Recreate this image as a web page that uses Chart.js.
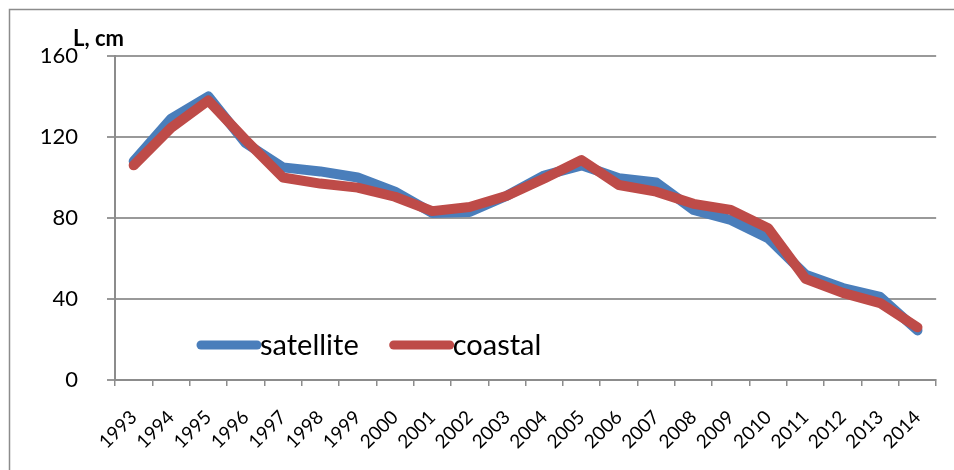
<!DOCTYPE html>
<html>
<head>
<meta charset="utf-8">
<script src="https://cdn.jsdelivr.net/npm/chart.js@4/dist/chart.umd.min.js"></script>
<style>
  html, body { margin: 0; padding: 0; background: #ffffff; }
  #wrap { width: 954px; height: 470px; position: relative; }
</style>
</head>
<body>
<div id="wrap"><canvas id="c" width="954" height="470"></canvas></div>
<script>
const years = ["1993","1994","1995","1996","1997","1998","1999","2000","2001","2002","2003",
               "2004","2005","2006","2007","2008","2009","2010","2011","2012","2013","2014"];
const satellite = [108, 129, 140, 117, 105, 103, 100, 93, 82.5, 83, 91,
                   101, 106, 99.7, 97.5, 84, 79, 70, 52, 45.4, 41, 24.5];
const coastal   = [106, 124.5, 138, 118.5, 100, 97, 95, 90.5, 83.4, 85.4, 91,
                   99.5, 108.6, 96.3, 93, 87, 84, 75, 50, 43, 38, 26];
const yTicks = [0, 40, 80, 120, 160];
const yTitle = "L, cm";
const seriesNames = ["satellite", "coastal"];

const FONT = "Lato, 'Open Sans', 'DejaVu Sans', sans-serif";

const framePlugin = {
  id: 'frame',
  beforeDraw(chart) {
    const ctx = chart.ctx;
    ctx.save();
    ctx.fillStyle = '#ffffff';
    ctx.fillRect(0, 0, chart.width, chart.height);
    ctx.strokeStyle = '#8c8c8c';
    ctx.lineWidth = 1.5;
    ctx.beginPath();
    ctx.moveTo(9.5, chart.height + 2);
    ctx.lineTo(9.5, 9.5);
    ctx.lineTo(chart.width + 2, 9.5);
    ctx.stroke();
    ctx.restore();
  },
  afterDraw(chart) {
    const ctx = chart.ctx;
    const ca = chart.chartArea;
    ctx.save();
    // axis title
    ctx.fillStyle = '#000';
    ctx.font = "bold 22px " + FONT;
    ctx.textAlign = 'left';
    ctx.textBaseline = 'middle';
    ctx.fillText(yTitle, ca.left - 42, ca.top - 17);
    // legend
    ctx.font = "29px " + FONT;
    let x = ca.left + 86;
    const y = ca.bottom - 35;
    chart.data.datasets.forEach((ds) => {
      ctx.strokeStyle = ds.borderColor;
      ctx.lineWidth = 9;
      ctx.lineCap = 'round';
      ctx.beginPath();
      ctx.moveTo(x, y);
      ctx.lineTo(x + 56, y);
      ctx.stroke();
      ctx.fillStyle = '#000';
      ctx.textBaseline = 'middle';
      ctx.fillText(ds.label, x + 59, y + 1);
      x += 59 + ctx.measureText(ds.label).width + 35;
    });
    ctx.restore();
  }
};

new Chart(document.getElementById('c'), {
  type: 'line',
  data: {
    labels: years,
    datasets: [
      { label: seriesNames[0], data: satellite, borderColor: '#4a7ebb', backgroundColor: '#4a7ebb',
        borderWidth: 10, pointRadius: 0, tension: 0, order: 1,
        borderCapStyle: 'round', borderJoinStyle: 'round', clip: false },
      { label: seriesNames[1], data: coastal, borderColor: '#be4b48', backgroundColor: '#be4b48',
        borderWidth: 10, pointRadius: 0, tension: 0, order: 0,
        borderCapStyle: 'round', borderJoinStyle: 'round', clip: false }
    ]
  },
  options: {
    responsive: false,
    animation: false,
    devicePixelRatio: 1,
    layout: { padding: { left: 0, top: 56, right: 17, bottom: 0 } },
    plugins: { legend: { display: false }, tooltip: { enabled: false } },
    scales: {
      x: {
        offset: true,
        grid: { offset: true, drawOnChartArea: false, drawTicks: true, tickLength: 6,
                color: '#8c8c8c', lineWidth: 1.5 },
        border: { color: '#8c8c8c', width: 2 },
        ticks: { minRotation: 45, maxRotation: 45, autoSkip: false, padding: 20,
                 color: '#000', font: { family: FONT, size: 19 } },
        afterFit(scale) { scale.height = 90; }
      },
      y: {
        min: 0, max: 160,
        afterBuildTicks(scale) { scale.ticks = yTicks.map(v => ({ value: v })); },
        grid: { color: '#999999', lineWidth: 2, tickLength: 8 },
        border: { color: '#8c8c8c', width: 2 },
        ticks: { padding: 29, color: '#000', font: { family: FONT, size: 22 } },
        afterFit(scale) { scale.width = 115; }
      }
    }
  },
  plugins: [framePlugin]
});
</script>
</body>
</html>
